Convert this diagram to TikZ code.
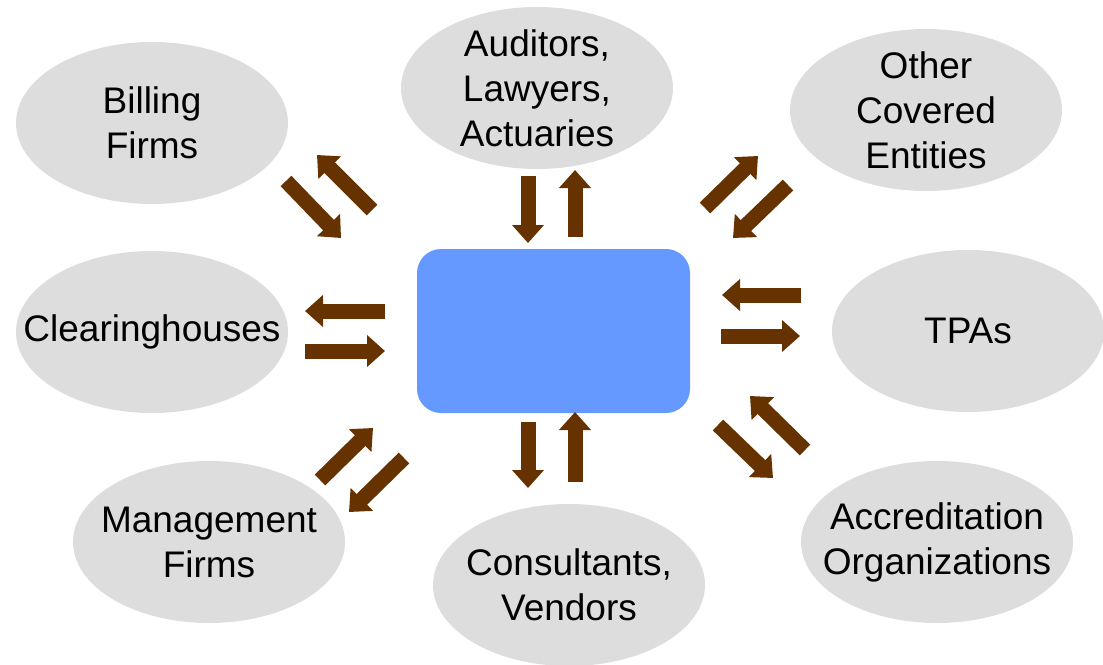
\documentclass[tikz,border=0pt]{standalone}
\usepackage{fontspec}
\setmainfont{Liberation Sans}
\usetikzlibrary{shapes.geometric,arrows.meta}

\definecolor{partygray}{HTML}{DDDDDD}
\definecolor{hubblue}{HTML}{6699FF}
\definecolor{flowbrown}{HTML}{663300}

\tikzset{
    party/.style={ellipse, fill=partygray, minimum width=272pt, minimum height=162pt,
        inner xsep=-60pt, inner ysep=-10pt, align=center,
        font=\fontsize{37}{45}\selectfont},
    hub/.style={rectangle, fill=hubblue, rounded corners=24pt,
        minimum width=273pt, minimum height=164pt},
    flow/.style={flowbrown, line width=15pt, -{Triangle[width=31pt,length=18pt]}}
}

\begin{document}
\begin{tikzpicture}[x=1pt, y=-1pt]
    \useasboundingbox (0,0) rectangle (1103,664);

    % centre box
    \node[hub] (hub) at (553.5,331) {};

    % partners around it
    \node[party] (billing)  at (152,123) {Billing\\Firms};
    \node[party] (audit)    at (537,88)  {Auditors,\\Lawyers,\\Actuaries};
    \node[party] (covered)  at (926,110) {Other\\Covered\\Entities};
    \node[party] (clearing) at (152,332) {Clearinghouses};
    \node[party] (tpa)      at (968,331) {TPAs};
    \node[party] (mgmt)     at (209,542) {Management\\Firms};
    \node[party] (vendor)   at (569,585) {Consultants,\\Vendors};
    \node[party] (accred)   at (937,542) {Accreditation\\Organizations};

    % two-way flows
    \foreach \n/\sx/\sy/\ex/\ey in {
            bi/286/181/341/238, bo/372/210/317/155,
            ai/528/176/528/243, ao/575/237/575/170,
            ci/705/208/758/156, co/788/185/733/238,
            hi/385/311/305/311, ho/305/351/385/351,
            ti/801/295/722/295, to/721/336/800/336,
            mi/320/480/373/428, mo/404/458/349/512,
            vi/528/422/528/488, vo/575/482/575/412,
            ri/718/425/773/478, ro/805/450/750/396} {
        \coordinate (\n-from) at (\sx,\sy);
        \coordinate (\n-to) at (\ex,\ey);
        \draw[flow] (\n-from) -- (\n-to);
    }
\end{tikzpicture}
\end{document}
